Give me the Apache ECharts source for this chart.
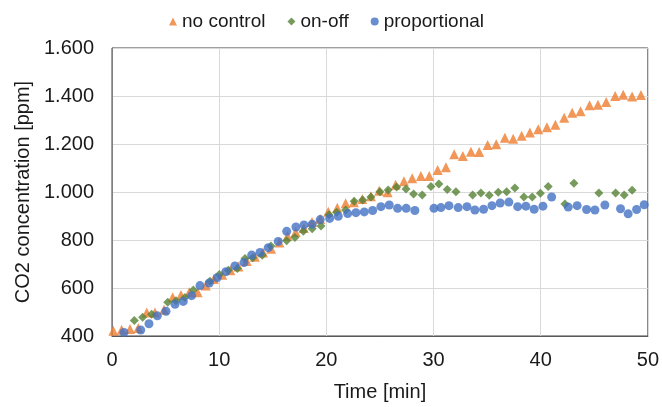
<!DOCTYPE html>
<html>
<head>
<meta charset="utf-8">
<script src="https://cdn.jsdelivr.net/npm/echarts@6/dist/echarts.min.js"></script>
<style>
  html, body { margin: 0; padding: 0; background: #fff; }
  #chart { width: 662px; height: 407px; }
</style>
</head>
<body>
<div id="chart"></div>
<script>
// time [min] and CO2 [ppm]
const noControlTime = [0.12, 0.90, 1.68, 2.45, 3.24, 4.01, 4.85, 5.66, 6.44, 7.21, 7.99,
  8.75, 9.51, 10.28, 11.04, 11.80, 12.57, 13.33, 14.09, 14.85, 15.62, 16.38, 17.14, 17.90, 18.66, 19.42,
  20.18, 21.02, 21.80, 22.57, 23.35, 24.16, 24.93, 25.72, 26.46, 27.24, 28.01, 28.82, 29.60, 30.38, 31.16,
  31.93, 32.74, 33.49, 34.26, 35.05, 35.85, 36.66, 37.43, 38.22, 38.99, 39.77, 40.58,
  41.37, 42.19, 42.94, 43.72, 44.56, 45.34, 46.11, 46.95, 47.70, 48.53, 49.35]
const noControlCo2 = [422, 426, 429, 433, 498, 498, 509, 561, 571, 582, 582,
  610, 637, 655, 674, 690, 712, 730, 748, 764, 790, 817, 833, 850, 875, 888,
  918, 934, 953, 957, 971, 982, 1005, 999, 1030, 1045, 1057, 1067, 1067, 1092, 1103,
  1157, 1150, 1168, 1167, 1196, 1199, 1226, 1222, 1234, 1248, 1261, 1270,
  1280, 1309, 1330, 1336, 1361, 1364, 1375, 1400, 1405, 1398, 1404]

const onOffTime = [2.08, 2.86, 3.70, 5.20, 5.97, 6.81, 7.59,
  9.14, 10.01, 10.85, 11.69, 12.41, 13.13, 14.02, 14.83,
  16.30, 17.07, 17.85, 18.68, 19.50,
  20.24, 20.96, 21.80, 22.60, 23.39, 24.16, 25.00, 25.77, 26.56, 27.43,
  28.14, 28.95, 29.76, 30.50, 31.28, 32.09,
  33.65, 34.42, 35.20, 36.04, 36.82, 37.59, 38.43, 39.21, 39.97, 40.70,
  42.26, 43.10, 45.43, 46.99, 47.79, 48.53]
const onOffCo2 = [465, 478, 491, 541, 547, 560, 592,
  628, 656, 674, 681, 723, 726, 736, 775,
  797, 810, 836, 847, 858,
  905, 916, 925, 961, 967, 979, 1001, 1008, 1021, 1012,
  992, 988, 1023, 1033, 1010, 1001,
  988, 996, 986, 999, 1001, 1017, 979, 979, 995, 1023,
  950, 1036, 996, 996, 988, 1007]

const proportionalTime = [1.12, 2.68, 3.45, 4.23, 5.04, 5.88, 6.65, 7.43, 8.21, 9.08, 9.82, 10.63,
  11.47, 12.31, 13.03, 13.81, 14.58, 15.51, 16.30, 17.16, 17.91, 18.68, 19.43, 20.31,
  21.11, 21.99, 22.76, 23.54, 24.32, 25.09, 25.87, 26.65, 27.45, 28.26,
  30.04, 30.69,
  31.44, 32.30, 33.12, 33.86, 34.67, 35.45, 36.22, 37.03, 37.85, 38.62, 39.39, 40.21, 41.02,
  42.57, 43.40, 44.28, 45.06, 45.99,
  47.45, 48.16, 48.95, 49.66]
const proportionalCo2 = [415, 425, 451, 484, 503, 532, 544, 568, 610, 621, 643, 668,
  692, 706, 737, 748, 768, 794, 836, 854, 863, 866, 885, 890,
  899, 910, 914, 917, 923, 939, 946, 932, 932, 923,
  932, 935,
  943, 935, 939, 925, 928, 943, 954, 958, 939, 941, 928, 941, 979,
  937, 943, 927, 925, 946,
  930, 909, 927, 947]

const yTicks = [400, 600, 800, 1000, 1200, 1400, 1600]
const yTickLabels = ['400', '600', '800', '1.000', '1.200', '1.400', '1.600']

const seriesNames = ['no control', 'on-off', 'proportional']

function zip(times, values) {
  return times.map((t, i) => [t, values[i]])
}

const textColor = '#1a1a1a'
const fontFamily = "'Liberation Sans', Arial, sans-serif"

const chart = echarts.init(document.getElementById('chart'))

chart.setOption({
  animation: false,
  backgroundColor: '#fff',
  textStyle: { fontFamily },
  legend: {
    top: 7,
    left: 164,
    itemWidth: 8,
    itemHeight: 8,
    itemGap: 22,
    textStyle: { fontSize: 19, color: textColor, fontFamily },
    data: seriesNames,
  },
  grid: {
    left: 112,
    right: 14,
    top: 48,
    bottom: 68,
    show: true,
    borderColor: '#404040',
    borderWidth: 1,
  },
  xAxis: {
    type: 'value',
    min: 0,
    max: 50,
    interval: 10,
    name: 'Time [min]',
    nameLocation: 'middle',
    nameGap: 46,
    nameTextStyle: { fontSize: 20, color: textColor, fontFamily },
    axisLine: { lineStyle: { color: '#595959' } },
    axisTick: { show: false },
    axisLabel: { fontSize: 20, color: textColor, margin: 14, fontFamily },
    splitLine: { lineStyle: { color: '#d9d9d9' } },
  },
  yAxis: {
    type: 'value',
    min: 400,
    max: 1600,
    interval: 200,
    name: 'CO2 concentration [ppm]',
    nameLocation: 'middle',
    nameGap: 75,
    nameTextStyle: { fontSize: 20, color: textColor, fontFamily },
    axisLine: { show: true, lineStyle: { color: '#808080' } },
    axisTick: { show: false },
    axisLabel: {
      fontSize: 20,
      color: textColor,
      margin: 18,
      fontFamily,
      formatter: (value) => yTickLabels[yTicks.indexOf(value)] ?? String(value),
    },
    splitLine: { lineStyle: { color: '#d9d9d9' } },
  },
  series: [
    {
      name: seriesNames[0],
      type: 'scatter',
      symbol: 'triangle',
      symbolSize: 10,
      clip: false,
      itemStyle: { color: '#ED7D31' },
      data: zip(noControlTime, noControlCo2),
    },
    {
      name: seriesNames[1],
      type: 'scatter',
      symbol: 'diamond',
      symbolSize: 9,
      clip: false,
      itemStyle: { color: '#548235' },
      data: zip(onOffTime, onOffCo2),
    },
    {
      name: seriesNames[2],
      type: 'scatter',
      symbol: 'circle',
      symbolSize: 9,
      clip: false,
      itemStyle: { color: '#4472C4' },
      data: zip(proportionalTime, proportionalCo2),
    },
  ],
})
</script>
</body>
</html>
